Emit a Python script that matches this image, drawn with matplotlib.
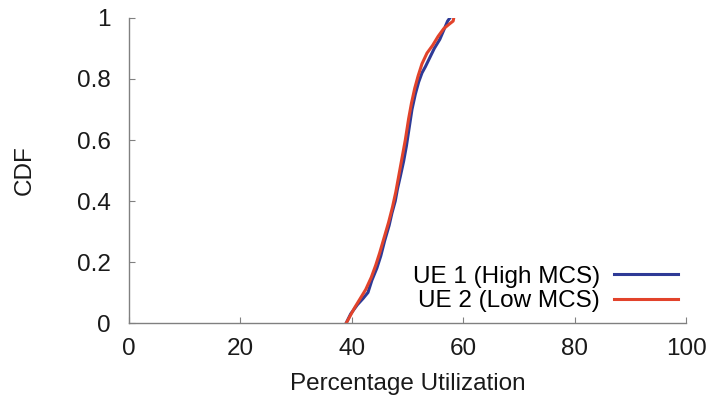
import matplotlib
matplotlib.use("Agg")
import matplotlib.pyplot as plt

plt.rcParams['font.family'] = ['Liberation Sans', 'DejaVu Sans']

# CDF curves (utilization %, cumulative fraction)
ue1_x = [39.0, 39.8, 41.0, 42.0, 42.9, 43.6, 44.5, 45.2, 45.9, 46.7, 47.2, 47.8,
         48.2, 48.7, 49.3, 49.8, 50.3, 50.8, 51.4, 52.0, 52.6, 53.2, 54.0, 54.8,
         55.8, 56.5, 57.2, 57.6]
ue1_y = [0.0, 0.03, 0.06, 0.08, 0.10, 0.14, 0.18, 0.22, 0.27, 0.32, 0.36, 0.40,
         0.44, 0.48, 0.53, 0.58, 0.64, 0.70, 0.75, 0.79, 0.82, 0.84, 0.87, 0.90,
         0.93, 0.96, 0.99, 1.0]

ue2_x = [39.0, 39.6, 40.5, 41.5, 42.5, 43.5, 44.3, 45.0, 45.8, 46.6, 47.3, 47.9,
         48.5, 49.0, 49.6, 50.2, 50.7, 51.3, 51.9, 52.6, 53.5, 54.5, 55.5, 56.5,
         57.5, 58.2, 58.3]
ue2_y = [0.0, 0.02, 0.05, 0.08, 0.11, 0.15, 0.19, 0.23, 0.28, 0.33, 0.38, 0.43,
         0.49, 0.54, 0.60, 0.67, 0.72, 0.77, 0.81, 0.85, 0.885, 0.91, 0.94, 0.965,
         0.98, 0.99, 1.0]

labels = ["UE 1 (High MCS)", "UE 2 (Low MCS)"]
x_ticks = [0, 20, 40, 60, 80, 100]
y_ticks = [0, 0.2, 0.4, 0.6, 0.8, 1]
y_tick_labels = ["0", "0.2", "0.4", "0.6", "0.8", "1"]

fig = plt.figure(figsize=(7.07, 3.98), dpi=100)
ax = fig.add_axes([0.1825, 0.1884, 0.7878, 0.7664])

ax.plot(ue1_x, ue1_y, color='#2e3a96', lw=2.2, label=labels[0])
ax.plot(ue2_x, ue2_y, color='#e2432b', lw=2.2, label=labels[1])

ax.set_xlim(0, 100)
ax.set_ylim(0, 1)
ax.set_xticks(x_ticks)
ax.set_yticks(y_ticks)
ax.set_yticklabels(y_tick_labels)

for s in ['top', 'right']:
    ax.spines[s].set_visible(False)
for s in ['left', 'bottom']:
    ax.spines[s].set_color('#808080')
    ax.spines[s].set_linewidth(1.0)

ax.tick_params(axis='both', direction='in', length=4, color='#808080',
               labelsize=17.5, labelcolor='#1a1a1a')
ax.tick_params(axis='y', pad=13)
ax.tick_params(axis='x', pad=11)

ax.set_xlabel("Percentage Utilization", fontsize=17.5, color='#1a1a1a', labelpad=9)
ax.set_ylabel("CDF", fontsize=17.5, color='#1a1a1a', labelpad=30)

ax.legend(loc='lower right', bbox_to_anchor=(0.985, 0.035), frameon=False,
          markerfirst=False, fontsize=17.5, handlelength=2.6, handletextpad=0.6,
          labelspacing=0.1, borderpad=0, borderaxespad=0)

fig.savefig("out.png", dpi=100)
